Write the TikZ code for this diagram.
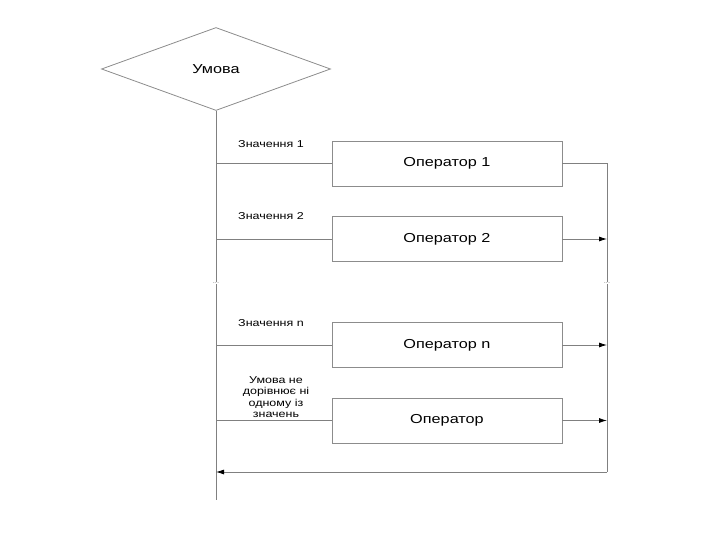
\documentclass[tikz,border=0pt]{standalone}
\usepackage{fontspec}
\setmainfont{Liberation Sans}[FakeStretch=1.25]
\usetikzlibrary{shapes.geometric,arrows.meta}
\begin{document}
\begin{tikzpicture}[x=1pt,y=-1pt,
  ln/.style={draw=black!50,line width=0.8pt},
  arr/.style={ln,-{Latex[length=8pt,width=5pt,fill=black,color=black]}},
  opbox/.style={draw=black!45,line width=0.8pt,minimum width=230pt,minimum height=45pt,inner sep=0pt,font=\fontsize{13}{15}\selectfont},
  lbl/.style={font=\fontsize{10}{11.5}\selectfont,align=center,inner sep=0pt},
  dots/.style={font=\fontsize{6}{6}\selectfont,fill=white,inner sep=0.5pt,text=black!60}]
\useasboundingbox (0,0) rectangle (720,540);
\node[draw=black!45,line width=0.8pt,shape=diamond,aspect=2.76,minimum width=229pt,minimum height=83pt,inner sep=0pt,font=\fontsize{13}{15}\selectfont] (d) at (216,69) {Умова};
\node[opbox] (o1) at (447,163.5) {Оператор 1};
\node[opbox] (o2) at (447,239) {Оператор 2};
\node[opbox] (on) at (447,345) {Оператор n};
\node[opbox] (o0) at (447,420.5) {Оператор};
\node[lbl] (t1) at (271,144) {Значення 1};
\node[lbl] (t2) at (271,216) {Значення 2};
\node[lbl] (tn) at (271,323) {Значення n};
\node[lbl] (t0) at (276,397) {Умова не\\дорівнює ні\\одному із\\значень};
\coordinate (Lend) at (216,500);
\coordinate (L1) at (216,163.5);
\coordinate (L2) at (216,239);
\coordinate (Ln) at (216,345);
\coordinate (L0) at (216,420.5);
\coordinate (Lb) at (216,472);
\coordinate (R1) at (607,163.5);
\coordinate (R2) at (607,239);
\coordinate (Rn) at (607,345);
\coordinate (R0) at (607,420.5);
\coordinate (Rb) at (607,472);
\draw[ln] (d.south) -- (Lend);
\draw[ln] (L1) -- (o1.west);
\draw[ln] (L2) -- (o2.west);
\draw[ln] (Ln) -- (on.west);
\draw[ln] (L0) -- (o0.west);
\draw[ln] (o1.east) -- (R1) -- (Rb);
\draw[arr] (o2.east) -- (R2);
\draw[arr] (on.east) -- (Rn);
\draw[arr] (o0.east) -- (R0);
\draw[arr] (Rb) -- (Lb);
\node[dots] (dl) at (216,283) {...};
\node[dots] (dr) at (607,283) {...};
\end{tikzpicture}
\end{document}
